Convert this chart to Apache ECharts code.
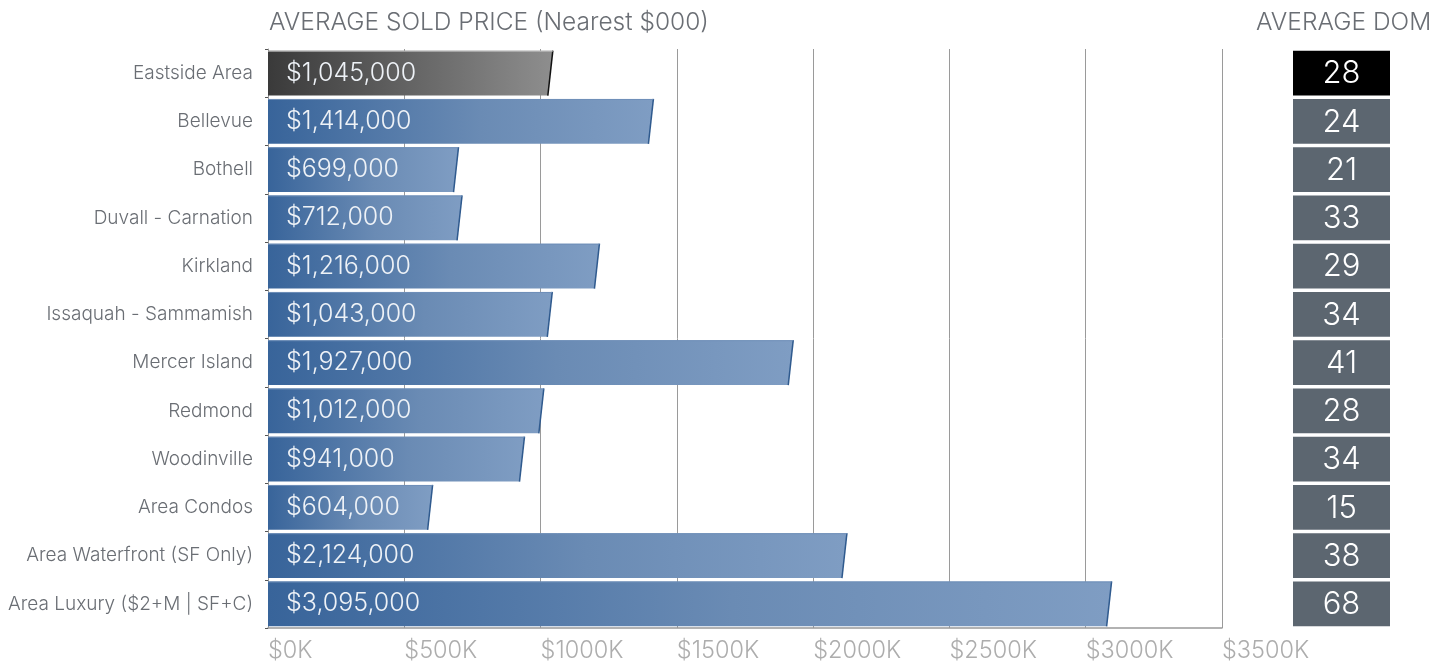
<!DOCTYPE html>
<html>
<head>
<meta charset="utf-8">
<script src="https://cdn.jsdelivr.net/npm/echarts@6/dist/echarts.min.js"></script>
<style>
  html, body { margin: 0; padding: 0; background: #fff; }
  #chart { width: 1448px; height: 666px; }
</style>
</head>
<body>
<div id="chart"></div>
<script>
// Eastside real estate snapshot: average sold price and days on market
const areas = [
  'Eastside Area', 'Bellevue', 'Bothell', 'Duvall - Carnation', 'Kirkland',
  'Issaquah - Sammamish', 'Mercer Island', 'Redmond', 'Woodinville',
  'Area Condos', 'Area Waterfront (SF Only)', 'Area Luxury ($2+M | SF+C)'
];
const avgPrice = [1045000, 1414000, 699000, 712000, 1216000, 1043000, 1927000, 1012000, 941000, 604000, 2124000, 3095000];
const avgDom = [28, 24, 21, 33, 29, 34, 41, 28, 34, 15, 38, 68];
const priceTicksK = [0, 500, 1000, 1500, 2000, 2500, 3000, 3500];

const FONT = 'Inter';
const chart = echarts.init(document.getElementById('chart'));

const fmtMoney = v => '$' + v.toLocaleString('en-US');

function priceBar(params, api) {
  const idx = api.value(1);
  const valK = api.value(0);
  const start = api.coord([0, idx]);
  const end = api.coord([valK, idx]);
  const band = api.size([0, 1])[1];
  const h = band * 0.93;
  const top = start[1] - h / 2;
  const bot = start[1] + h / 2;
  const slant = 5;
  const first = idx === 0;
  const fill = new echarts.graphic.LinearGradient(0, 0, 1, 0,
    first
      ? [{ offset: 0, color: '#3a3a3a' }, { offset: 1, color: '#8e8e8e' }]
      : [{ offset: 0, color: '#38649a' }, { offset: 0.55, color: '#6a8bb4' }, { offset: 1, color: '#7f9dc3' }]);
  return {
    type: 'group',
    children: [
      {
        type: 'polygon',
        shape: { points: [[start[0], top], [end[0], top], [end[0] - slant, bot], [start[0], bot]] },
        style: { fill: fill }
      },
      {
        type: 'line',
        shape: { x1: end[0], y1: top, x2: end[0] - slant, y2: bot },
        style: { stroke: first ? '#111' : '#2f5a8e', lineWidth: 1.5 }
      },
      {
        type: 'line',
        shape: { x1: start[0], y1: top + 0.5, x2: end[0], y2: top + 0.5 },
        style: { stroke: first ? '#bbbbbb' : '#6f8fb8', lineWidth: 1 }
      },
      {
        type: 'text',
        style: {
          x: start[0] + 18, y: start[1],
          text: fmtMoney(avgPrice[idx]),
          fill: '#eef2f7',
          font: '300 25px ' + FONT,
          textVerticalAlign: 'middle', verticalAlign: 'middle'
        }
      }
    ]
  };
}

function domBox(params, api) {
  const idx = api.value(1);
  const c = api.coord([0, idx]);
  const band = api.size([0, 1])[1];
  const h = band * 0.93;
  const left = params.coordSys.x;
  const w = params.coordSys.width;
  return {
    type: 'group',
    children: [
      {
        type: 'rect',
        shape: { x: left, y: c[1] - h / 2, width: w, height: h },
        style: { fill: idx === 0 ? '#000000' : '#5c6670' }
      },
      {
        type: 'text',
        style: {
          x: left + w / 2, y: c[1] + 1,
          text: String(api.value(0)),
          fill: '#ffffff',
          font: '300 31px ' + FONT,
          align: 'center', textAlign: 'center',
          verticalAlign: 'middle', textVerticalAlign: 'middle'
        }
      }
    ]
  };
}

chart.setOption({
  animation: false,
  backgroundColor: '#ffffff',
  title: [
    {
      text: 'AVERAGE SOLD PRICE (Nearest $000)', left: 264, top: 5,
      textStyle: { fontFamily: FONT, fontWeight: 300, fontSize: 24.5, color: '#6a6e74' }
    },
    {
      text: 'AVERAGE DOM', left: 1251, top: 5,
      textStyle: { fontFamily: FONT, fontWeight: 300, fontSize: 24.5, color: '#6a6e74' }
    }
  ],
  grid: [
    { left: 268, right: 226, top: 49, bottom: 38 },
    { left: 1293, width: 97, top: 49, bottom: 38 }
  ],
  xAxis: [
    {
      gridIndex: 0, type: 'value', min: priceTicksK[0], max: priceTicksK[priceTicksK.length - 1], interval: 500,
      axisLine: { show: true, lineStyle: { color: '#999', width: 1.5 } },
      axisTick: { show: false },
      splitLine: { show: true, lineStyle: { color: '#9a9a9a', width: 1 } },
      axisLabel: {
        formatter: v => '$' + v + 'K', align: 'left', margin: 11,
        fontFamily: FONT, fontWeight: 300, fontSize: 23.5, color: '#adadad'
      }
    },
    { gridIndex: 1, type: 'value', min: 0, max: 1, show: false }
  ],
  yAxis: [
    {
      gridIndex: 0, type: 'category', data: areas, inverse: true,
      axisLine: { show: true, lineStyle: { color: '#999', width: 1 } },
      axisTick: { show: true, length: 3, lineStyle: { color: '#555' } },
      axisLabel: { margin: 15, fontFamily: FONT, fontWeight: 300, fontSize: 19, color: '#6a6e74' }
    },
    { gridIndex: 1, type: 'category', data: areas, inverse: true, show: false }
  ],
  series: [
    {
      type: 'custom', xAxisIndex: 0, yAxisIndex: 0,
      data: avgPrice.map((v, i) => [v / 1000, i]),
      encode: { x: 0, y: 1 },
      renderItem: priceBar
    },
    {
      type: 'custom', xAxisIndex: 1, yAxisIndex: 1,
      data: avgDom.map((v, i) => [v, i]),
      encode: { y: 1 },
      renderItem: domBox
    }
  ]
});
</script>
</body>
</html>
